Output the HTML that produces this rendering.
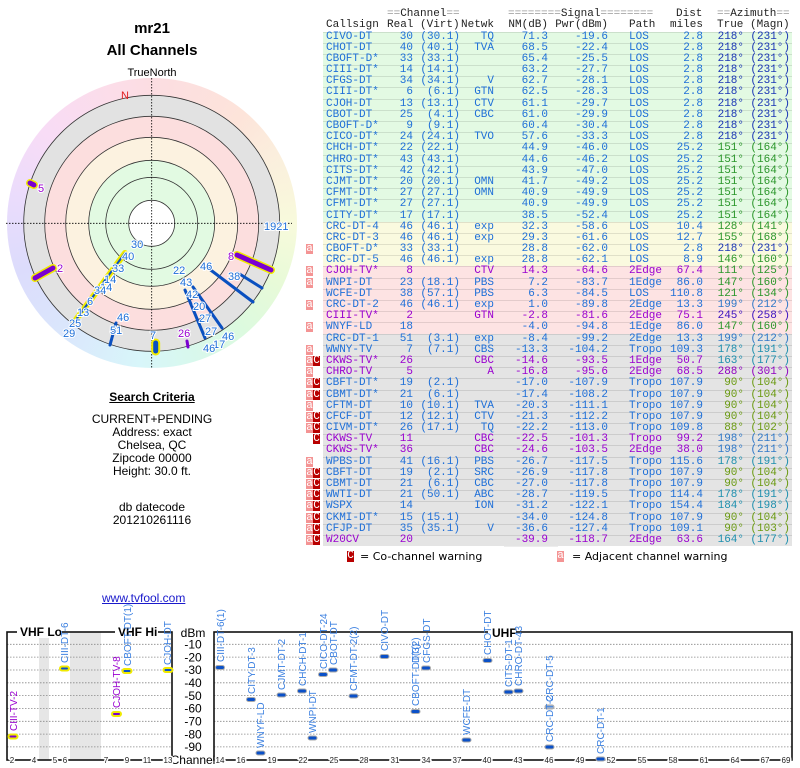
<!DOCTYPE html>
<html><head><meta charset="utf-8">
<style>
body{margin:0;width:800px;height:768px;background:#fff;position:relative;overflow:hidden;font-family:"Liberation Sans",sans-serif}
.t{position:absolute;white-space:nowrap}
.mono{font-family:"Liberation Mono","DejaVu Sans Mono",monospace;font-size:11px}
#tbl{position:absolute;left:0;top:31.5px;width:800px}
.r{position:relative;height:11.2px;line-height:11.2px}
.r .bg{position:absolute;left:323px;width:469px;top:0;height:11.2px;box-sizing:border-box;border-top:1px solid rgba(0,0,0,0.1)}
.G .bg{background:#e3fae3}.Y .bg{background:#fafadf}.P .bg{background:#fde3e3}.X .bg{background:#e4e4e4}
.r span,.h span{position:absolute;top:0}
.c1{left:326px}.c2{left:390px;width:23px;text-align:right}.c3{left:415px;width:45px;text-align:right}
.c4{left:462px;width:32px;text-align:right}.c5{left:505px;width:43px;text-align:right}
.c6{left:558px;width:50px;text-align:right}.c7{left:629px}.c8{left:655px;width:48px;text-align:right}
.c9{left:700px;width:44px;text-align:right}.c10{left:745px;width:45px;text-align:right}
.wa{left:306px;width:7px;height:10px;background:#f49494;color:#fff;text-align:center;line-height:10px}
.wc{left:313px;width:7px;height:10px;background:#b80000;color:#fff;text-align:center;line-height:10px}
.r{color:#1e6fd8}.pu{color:#9a00d0}
.az1{color:#1a35b5}.az2{color:#2a962a}.az3{color:#6a9a10}.az4{color:#1d8fae}.az5{color:#2f78c8}.az6{color:#3a10c0}.az7{color:#9000c0}
#nm{position:absolute;left:504px;top:31.5px;width:54px;height:515px;background:rgba(0,0,0,0.07)}
.h{position:absolute;left:0;width:800px;height:12px;color:#222}.eq{color:#999}
</style></head><body>

<div class="t" style="left:0;width:304px;text-align:center;top:20px;font-weight:bold;font-size:15px">mr21</div>
<div class="t" style="left:0;width:304px;text-align:center;top:42px;font-weight:bold;font-size:15px">All Channels</div>
<div class="t" style="left:0;width:304px;text-align:center;top:67px;font-size:11px">TrueNorth</div>

<div style="position:absolute;left:6.7px;top:78.3px;width:290px;height:290px;border-radius:50%;background:conic-gradient(#fcdde2 0deg,#fde4da 40deg,#fbeedd 60deg,#f8fadc 90deg,#e8fad8 115deg,#dcfadf 140deg,#d8f8ee 165deg,#d8f6fa 185deg,#dae8fc 215deg,#dcdcfc 250deg,#eadcfc 280deg,#f8dcf6 310deg,#fcdde8 345deg,#fcdde2 360deg)"></div>
<svg style="position:absolute;left:0;top:0" width="304" height="380">
<g stroke="#333" stroke-width="0.8">
<circle cx="151.7" cy="223.3" r="128" fill="#e2e2e2"/>
<circle cx="151.7" cy="223.3" r="107" fill="#fcdede"/>
<circle cx="151.7" cy="223.3" r="86" fill="#fcf2e0"/>
<circle cx="151.7" cy="223.3" r="63" fill="#e2fae2"/>
<circle cx="151.7" cy="223.3" r="46" fill="#e2fae2"/>
<circle cx="151.7" cy="223.3" r="23" fill="#fff"/>
</g>
<g stroke="#000" stroke-width="0.8" stroke-dasharray="1.5,1.5">
<line x1="6" y1="223.3" x2="292" y2="223.3"/><line x1="151.7" y1="78" x2="151.7" y2="369"/>
</g>
<text x="121" y="99" fill="#e02020" font-size="11">N</text>
<g stroke-linecap="round">
<line x1="125" y1="253" x2="75" y2="321" stroke="#f0ea00" stroke-width="6"/>
<line x1="125" y1="253" x2="75" y2="321" stroke="#0a50c0" stroke-width="2"/>
<line x1="35" y1="278" x2="53" y2="268" stroke="#f0ea00" stroke-width="8"/>
<line x1="35" y1="278" x2="53" y2="268" stroke="#7a00d0" stroke-width="5"/>
<line x1="30" y1="183" x2="34" y2="185" stroke="#f0ea00" stroke-width="8"/>
<line x1="30" y1="183" x2="34" y2="185" stroke="#7a00d0" stroke-width="5"/>
<line x1="237" y1="255" x2="271" y2="270" stroke="#f0ea00" stroke-width="8"/>
<line x1="237" y1="255" x2="271" y2="270" stroke="#7a00d0" stroke-width="5"/>
<line x1="208" y1="268" x2="253" y2="302" stroke="#0a50c0" stroke-width="3"/>
<line x1="238" y1="273" x2="262" y2="288" stroke="#0a50c0" stroke-width="3"/>
<line x1="185" y1="290" x2="205" y2="338" stroke="#0a50c0" stroke-width="3"/>
<line x1="193" y1="287" x2="222" y2="328" stroke="#0a50c0" stroke-width="3"/>
<line x1="116" y1="323" x2="110" y2="345" stroke="#0a50c0" stroke-width="3"/>
<line x1="155.7" y1="343" x2="155.7" y2="351" stroke="#f0ea00" stroke-width="9"/>
<line x1="155.7" y1="343" x2="155.7" y2="351" stroke="#0a50c0" stroke-width="5"/>
<line x1="187" y1="341" x2="188" y2="347" stroke="#7a00d0" stroke-width="3"/>
</g>
<g font-size="11" fill="#1e6fd8" stroke="#fff" stroke-width="2" paint-order="stroke">
<text x="38" y="192" fill="#9a00d0">5</text>
<text x="264" y="230">1921</text>
<text x="131" y="248">30</text><text x="122" y="260">40</text><text x="112" y="272">33</text>
<text x="104" y="283">14</text><text x="100" y="291">14</text><text x="94" y="294">34</text>
<text x="87" y="305">6</text><text x="77" y="316">13</text><text x="69" y="327">25</text><text x="63" y="337">29</text>
<text x="57" y="272" fill="#9a00d0">2</text><text x="228" y="260" fill="#9a00d0">8</text>
<text x="200" y="270">46</text><text x="228" y="280">38</text>
<text x="173" y="274">22</text><text x="180" y="286">43</text><text x="186" y="298">42</text>
<text x="193" y="310">20</text><text x="199" y="322">27</text><text x="205" y="335">27</text>
<text x="222" y="340">46</text><text x="213" y="348">17</text><text x="203" y="352">46</text>
<text x="178" y="337" fill="#9a00d0">26</text><text x="150" y="339">7</text>
<text x="117" y="321">46</text><text x="110" y="334">51</text>
</g>
</svg>

<div class="t" style="left:0;width:304px;text-align:center;top:390px;font-size:12px;font-weight:bold;text-decoration:underline">Search Criteria</div>
<div class="t" style="left:0;width:304px;text-align:center;top:413px;font-size:12px;line-height:13px">CURRENT+PENDING<br>Address: exact<br>Chelsea, QC<br>Zipcode 00000<br>Height: 30.0 ft.</div>
<div class="t" style="left:0;width:304px;text-align:center;top:501px;font-size:12px;line-height:13px">db datecode<br>201210261116</div>

<div class="h mono" style="top:8px"><span style="left:387px"><span class="eq" style="position:static">==</span>Channel<span class="eq" style="position:static">==</span></span><span style="left:508px"><span class="eq" style="position:static">========</span>Signal<span class="eq" style="position:static">========</span></span><span style="left:676px">Dist</span><span style="left:717px"><span class="eq" style="position:static">==</span>Azimuth<span class="eq" style="position:static">==</span></span></div>
<div class="h mono" style="top:19px"><span style="left:326px">Callsign</span><span style="left:387px">Real</span><span style="left:420px">(Virt)</span><span style="left:461px;width:33px;text-align:right">Netwk</span><span style="left:505px;width:43px;text-align:right">NM(dB)</span><span style="left:550px;width:58px;text-align:right">Pwr(dBm)</span><span style="left:629px">Path</span><span style="left:660px;width:43px;text-align:right">miles</span><span style="left:717px">True</span><span style="left:750px">(Magn)</span></div>

<div id="nm"></div>
<div id="tbl" class="mono">
<div class="r G"><i class="bg"></i><span class="c1">CIVO-DT</span><span class="c2">30</span><span class="c3">(30.1)</span><span class="c4">TQ</span><span class="c5">71.3</span><span class="c6">-19.6</span><span class="c7">LOS</span><span class="c8">2.8</span><span class="c9 az1">218°</span><span class="c10 az1">(231°)</span></div>
<div class="r G"><i class="bg"></i><span class="c1">CHOT-DT</span><span class="c2">40</span><span class="c3">(40.1)</span><span class="c4">TVA</span><span class="c5">68.5</span><span class="c6">-22.4</span><span class="c7">LOS</span><span class="c8">2.8</span><span class="c9 az1">218°</span><span class="c10 az1">(231°)</span></div>
<div class="r G"><i class="bg"></i><span class="c1">CBOFT-D*</span><span class="c2">33</span><span class="c3">(33.1)</span><span class="c4"></span><span class="c5">65.4</span><span class="c6">-25.5</span><span class="c7">LOS</span><span class="c8">2.8</span><span class="c9 az1">218°</span><span class="c10 az1">(231°)</span></div>
<div class="r G"><i class="bg"></i><span class="c1">CIII-DT*</span><span class="c2">14</span><span class="c3">(14.1)</span><span class="c4"></span><span class="c5">63.2</span><span class="c6">-27.7</span><span class="c7">LOS</span><span class="c8">2.8</span><span class="c9 az1">218°</span><span class="c10 az1">(231°)</span></div>
<div class="r G"><i class="bg"></i><span class="c1">CFGS-DT</span><span class="c2">34</span><span class="c3">(34.1)</span><span class="c4">V</span><span class="c5">62.7</span><span class="c6">-28.1</span><span class="c7">LOS</span><span class="c8">2.8</span><span class="c9 az1">218°</span><span class="c10 az1">(231°)</span></div>
<div class="r G"><i class="bg"></i><span class="c1">CIII-DT*</span><span class="c2">6</span><span class="c3">(6.1)</span><span class="c4">GTN</span><span class="c5">62.5</span><span class="c6">-28.3</span><span class="c7">LOS</span><span class="c8">2.8</span><span class="c9 az1">218°</span><span class="c10 az1">(231°)</span></div>
<div class="r G"><i class="bg"></i><span class="c1">CJOH-DT</span><span class="c2">13</span><span class="c3">(13.1)</span><span class="c4">CTV</span><span class="c5">61.1</span><span class="c6">-29.7</span><span class="c7">LOS</span><span class="c8">2.8</span><span class="c9 az1">218°</span><span class="c10 az1">(231°)</span></div>
<div class="r G"><i class="bg"></i><span class="c1">CBOT-DT</span><span class="c2">25</span><span class="c3">(4.1)</span><span class="c4">CBC</span><span class="c5">61.0</span><span class="c6">-29.9</span><span class="c7">LOS</span><span class="c8">2.8</span><span class="c9 az1">218°</span><span class="c10 az1">(231°)</span></div>
<div class="r G"><i class="bg"></i><span class="c1">CBOFT-D*</span><span class="c2">9</span><span class="c3">(9.1)</span><span class="c4"></span><span class="c5">60.4</span><span class="c6">-30.4</span><span class="c7">LOS</span><span class="c8">2.8</span><span class="c9 az1">218°</span><span class="c10 az1">(231°)</span></div>
<div class="r G"><i class="bg"></i><span class="c1">CICO-DT*</span><span class="c2">24</span><span class="c3">(24.1)</span><span class="c4">TVO</span><span class="c5">57.6</span><span class="c6">-33.3</span><span class="c7">LOS</span><span class="c8">2.8</span><span class="c9 az1">218°</span><span class="c10 az1">(231°)</span></div>
<div class="r G"><i class="bg"></i><span class="c1">CHCH-DT*</span><span class="c2">22</span><span class="c3">(22.1)</span><span class="c4"></span><span class="c5">44.9</span><span class="c6">-46.0</span><span class="c7">LOS</span><span class="c8">25.2</span><span class="c9 az2">151°</span><span class="c10 az2">(164°)</span></div>
<div class="r G"><i class="bg"></i><span class="c1">CHRO-DT*</span><span class="c2">43</span><span class="c3">(43.1)</span><span class="c4"></span><span class="c5">44.6</span><span class="c6">-46.2</span><span class="c7">LOS</span><span class="c8">25.2</span><span class="c9 az2">151°</span><span class="c10 az2">(164°)</span></div>
<div class="r G"><i class="bg"></i><span class="c1">CITS-DT*</span><span class="c2">42</span><span class="c3">(42.1)</span><span class="c4"></span><span class="c5">43.9</span><span class="c6">-47.0</span><span class="c7">LOS</span><span class="c8">25.2</span><span class="c9 az2">151°</span><span class="c10 az2">(164°)</span></div>
<div class="r G"><i class="bg"></i><span class="c1">CJMT-DT*</span><span class="c2">20</span><span class="c3">(20.1)</span><span class="c4">OMN</span><span class="c5">41.7</span><span class="c6">-49.2</span><span class="c7">LOS</span><span class="c8">25.2</span><span class="c9 az2">151°</span><span class="c10 az2">(164°)</span></div>
<div class="r G"><i class="bg"></i><span class="c1">CFMT-DT*</span><span class="c2">27</span><span class="c3">(27.1)</span><span class="c4">OMN</span><span class="c5">40.9</span><span class="c6">-49.9</span><span class="c7">LOS</span><span class="c8">25.2</span><span class="c9 az2">151°</span><span class="c10 az2">(164°)</span></div>
<div class="r G"><i class="bg"></i><span class="c1">CFMT-DT*</span><span class="c2">27</span><span class="c3">(27.1)</span><span class="c4"></span><span class="c5">40.9</span><span class="c6">-49.9</span><span class="c7">LOS</span><span class="c8">25.2</span><span class="c9 az2">151°</span><span class="c10 az2">(164°)</span></div>
<div class="r G"><i class="bg"></i><span class="c1">CITY-DT*</span><span class="c2">17</span><span class="c3">(17.1)</span><span class="c4"></span><span class="c5">38.5</span><span class="c6">-52.4</span><span class="c7">LOS</span><span class="c8">25.2</span><span class="c9 az2">151°</span><span class="c10 az2">(164°)</span></div>
<div class="r Y"><i class="bg"></i><span class="c1">CRC-DT-4</span><span class="c2">46</span><span class="c3">(46.1)</span><span class="c4">exp</span><span class="c5">32.3</span><span class="c6">-58.6</span><span class="c7">LOS</span><span class="c8">10.4</span><span class="c9 az2">128°</span><span class="c10 az2">(141°)</span></div>
<div class="r Y"><i class="bg"></i><span class="c1">CRC-DT-3</span><span class="c2">46</span><span class="c3">(46.1)</span><span class="c4">exp</span><span class="c5">29.3</span><span class="c6">-61.6</span><span class="c7">LOS</span><span class="c8">12.7</span><span class="c9 az2">155°</span><span class="c10 az2">(168°)</span></div>
<div class="r Y"><i class="bg"></i><span class="wa">a</span><span class="c1">CBOFT-D*</span><span class="c2">33</span><span class="c3">(33.1)</span><span class="c4"></span><span class="c5">28.8</span><span class="c6">-62.0</span><span class="c7">LOS</span><span class="c8">2.8</span><span class="c9 az1">218°</span><span class="c10 az1">(231°)</span></div>
<div class="r Y"><i class="bg"></i><span class="c1">CRC-DT-5</span><span class="c2">46</span><span class="c3">(46.1)</span><span class="c4">exp</span><span class="c5">28.8</span><span class="c6">-62.1</span><span class="c7">LOS</span><span class="c8">8.9</span><span class="c9 az2">146°</span><span class="c10 az2">(160°)</span></div>
<div class="r P pu"><i class="bg"></i><span class="wa">a</span><span class="c1">CJOH-TV*</span><span class="c2">8</span><span class="c4">CTV</span><span class="c5">14.3</span><span class="c6">-64.6</span><span class="c7">2Edge</span><span class="c8">67.4</span><span class="c9 az2">111°</span><span class="c10 az2">(125°)</span></div>
<div class="r P"><i class="bg"></i><span class="wa">a</span><span class="c1">WNPI-DT</span><span class="c2">23</span><span class="c3">(18.1)</span><span class="c4">PBS</span><span class="c5">7.2</span><span class="c6">-83.7</span><span class="c7">1Edge</span><span class="c8">86.0</span><span class="c9 az2">147°</span><span class="c10 az2">(160°)</span></div>
<div class="r P"><i class="bg"></i><span class="c1">WCFE-DT</span><span class="c2">38</span><span class="c3">(57.1)</span><span class="c4">PBS</span><span class="c5">6.3</span><span class="c6">-84.5</span><span class="c7">LOS</span><span class="c8">110.8</span><span class="c9 az2">121°</span><span class="c10 az2">(134°)</span></div>
<div class="r P"><i class="bg"></i><span class="wa">a</span><span class="c1">CRC-DT-2</span><span class="c2">46</span><span class="c3">(46.1)</span><span class="c4">exp</span><span class="c5">1.0</span><span class="c6">-89.8</span><span class="c7">2Edge</span><span class="c8">13.3</span><span class="c9 az5">199°</span><span class="c10 az5">(212°)</span></div>
<div class="r P pu"><i class="bg"></i><span class="c1">CIII-TV*</span><span class="c2">2</span><span class="c4">GTN</span><span class="c5">-2.8</span><span class="c6">-81.6</span><span class="c7">2Edge</span><span class="c8">75.1</span><span class="c9 az6">245°</span><span class="c10 az6">(258°)</span></div>
<div class="r P"><i class="bg"></i><span class="wa">a</span><span class="c1">WNYF-LD</span><span class="c2">18</span><span class="c5">-4.0</span><span class="c6">-94.8</span><span class="c7">1Edge</span><span class="c8">86.0</span><span class="c9 az2">147°</span><span class="c10 az2">(160°)</span></div>
<div class="r X"><i class="bg"></i><span class="c1">CRC-DT-1</span><span class="c2">51</span><span class="c3">(3.1)</span><span class="c4">exp</span><span class="c5">-8.4</span><span class="c6">-99.2</span><span class="c7">2Edge</span><span class="c8">13.3</span><span class="c9 az5">199°</span><span class="c10 az5">(212°)</span></div>
<div class="r X"><i class="bg"></i><span class="wa">a</span><span class="c1">WWNY-TV</span><span class="c2">7</span><span class="c3">(7.1)</span><span class="c4">CBS</span><span class="c5">-13.3</span><span class="c6">-104.2</span><span class="c7">Tropo</span><span class="c8">109.3</span><span class="c9 az4">178°</span><span class="c10 az4">(191°)</span></div>
<div class="r X pu"><i class="bg"></i><span class="wa">a</span><span class="wc">C</span><span class="c1">CKWS-TV*</span><span class="c2">26</span><span class="c4">CBC</span><span class="c5">-14.6</span><span class="c6">-93.5</span><span class="c7">1Edge</span><span class="c8">50.7</span><span class="c9 az4">163°</span><span class="c10 az4">(177°)</span></div>
<div class="r X pu"><i class="bg"></i><span class="wa">a</span><span class="c1">CHRO-TV</span><span class="c2">5</span><span class="c4">A</span><span class="c5">-16.8</span><span class="c6">-95.6</span><span class="c7">2Edge</span><span class="c8">68.5</span><span class="c9 az7">288°</span><span class="c10 az7">(301°)</span></div>
<div class="r X"><i class="bg"></i><span class="wa">a</span><span class="wc">C</span><span class="c1">CBFT-DT*</span><span class="c2">19</span><span class="c3">(2.1)</span><span class="c5">-17.0</span><span class="c6">-107.9</span><span class="c7">Tropo</span><span class="c8">107.9</span><span class="c9 az3">90°</span><span class="c10 az3">(104°)</span></div>
<div class="r X"><i class="bg"></i><span class="wa">a</span><span class="wc">C</span><span class="c1">CBMT-DT*</span><span class="c2">21</span><span class="c3">(6.1)</span><span class="c5">-17.4</span><span class="c6">-108.2</span><span class="c7">Tropo</span><span class="c8">107.9</span><span class="c9 az3">90°</span><span class="c10 az3">(104°)</span></div>
<div class="r X"><i class="bg"></i><span class="wa">a</span><span class="c1">CFTM-DT</span><span class="c2">10</span><span class="c3">(10.1)</span><span class="c4">TVA</span><span class="c5">-20.3</span><span class="c6">-111.1</span><span class="c7">Tropo</span><span class="c8">107.9</span><span class="c9 az3">90°</span><span class="c10 az3">(104°)</span></div>
<div class="r X"><i class="bg"></i><span class="wa">a</span><span class="wc">C</span><span class="c1">CFCF-DT</span><span class="c2">12</span><span class="c3">(12.1)</span><span class="c4">CTV</span><span class="c5">-21.3</span><span class="c6">-112.2</span><span class="c7">Tropo</span><span class="c8">107.9</span><span class="c9 az3">90°</span><span class="c10 az3">(104°)</span></div>
<div class="r X"><i class="bg"></i><span class="wa">a</span><span class="wc">C</span><span class="c1">CIVM-DT*</span><span class="c2">26</span><span class="c3">(17.1)</span><span class="c4">TQ</span><span class="c5">-22.2</span><span class="c6">-113.0</span><span class="c7">Tropo</span><span class="c8">109.8</span><span class="c9 az3">88°</span><span class="c10 az3">(102°)</span></div>
<div class="r X pu"><i class="bg"></i><span class="wc">C</span><span class="c1">CKWS-TV</span><span class="c2">11</span><span class="c4">CBC</span><span class="c5">-22.5</span><span class="c6">-101.3</span><span class="c7">Tropo</span><span class="c8">99.2</span><span class="c9 az5">198°</span><span class="c10 az5">(211°)</span></div>
<div class="r X pu"><i class="bg"></i><span class="c1">CKWS-TV*</span><span class="c2">36</span><span class="c4">CBC</span><span class="c5">-24.6</span><span class="c6">-103.5</span><span class="c7">2Edge</span><span class="c8">38.0</span><span class="c9 az5">198°</span><span class="c10 az5">(211°)</span></div>
<div class="r X"><i class="bg"></i><span class="wa">a</span><span class="c1">WPBS-DT</span><span class="c2">41</span><span class="c3">(16.1)</span><span class="c4">PBS</span><span class="c5">-26.7</span><span class="c6">-117.5</span><span class="c7">Tropo</span><span class="c8">115.6</span><span class="c9 az4">178°</span><span class="c10 az4">(191°)</span></div>
<div class="r X"><i class="bg"></i><span class="wa">a</span><span class="wc">C</span><span class="c1">CBFT-DT</span><span class="c2">19</span><span class="c3">(2.1)</span><span class="c4">SRC</span><span class="c5">-26.9</span><span class="c6">-117.8</span><span class="c7">Tropo</span><span class="c8">107.9</span><span class="c9 az3">90°</span><span class="c10 az3">(104°)</span></div>
<div class="r X"><i class="bg"></i><span class="wa">a</span><span class="wc">C</span><span class="c1">CBMT-DT</span><span class="c2">21</span><span class="c3">(6.1)</span><span class="c4">CBC</span><span class="c5">-27.0</span><span class="c6">-117.8</span><span class="c7">Tropo</span><span class="c8">107.9</span><span class="c9 az3">90°</span><span class="c10 az3">(104°)</span></div>
<div class="r X"><i class="bg"></i><span class="wa">a</span><span class="wc">C</span><span class="c1">WWTI-DT</span><span class="c2">21</span><span class="c3">(50.1)</span><span class="c4">ABC</span><span class="c5">-28.7</span><span class="c6">-119.5</span><span class="c7">Tropo</span><span class="c8">114.4</span><span class="c9 az4">178°</span><span class="c10 az4">(191°)</span></div>
<div class="r X"><i class="bg"></i><span class="wa">a</span><span class="wc">C</span><span class="c1">WSPX</span><span class="c2">14</span><span class="c4">ION</span><span class="c5">-31.2</span><span class="c6">-122.1</span><span class="c7">Tropo</span><span class="c8">154.4</span><span class="c9 az4">184°</span><span class="c10 az4">(198°)</span></div>
<div class="r X"><i class="bg"></i><span class="wa">a</span><span class="wc">C</span><span class="c1">CKMI-DT*</span><span class="c2">15</span><span class="c3">(15.1)</span><span class="c5">-34.0</span><span class="c6">-124.8</span><span class="c7">Tropo</span><span class="c8">107.9</span><span class="c9 az3">90°</span><span class="c10 az3">(104°)</span></div>
<div class="r X"><i class="bg"></i><span class="wa">a</span><span class="wc">C</span><span class="c1">CFJP-DT</span><span class="c2">35</span><span class="c3">(35.1)</span><span class="c4">V</span><span class="c5">-36.6</span><span class="c6">-127.4</span><span class="c7">Tropo</span><span class="c8">109.1</span><span class="c9 az3">90°</span><span class="c10 az3">(103°)</span></div>
<div class="r X pu"><i class="bg"></i><span class="wa">a</span><span class="wc">C</span><span class="c1">W20CV</span><span class="c2">20</span><span class="c5">-39.9</span><span class="c6">-118.7</span><span class="c7">2Edge</span><span class="c8">63.6</span><span class="c9 az4">164°</span><span class="c10 az4">(177°)</span></div>
</div>

<div class="t mono" style="left:347px;top:551px;width:7px;height:11px;line-height:11px;background:#b80000;color:#fff;text-align:center">C</div>
<div class="t" style="left:360px;top:550px;font-family:'DejaVu Sans',sans-serif;font-size:11px">= Co-channel warning</div>
<div class="t mono" style="left:557px;top:551px;width:7px;height:11px;line-height:11px;background:#f49494;color:#fff;text-align:center">a</div>
<div class="t" style="left:572px;top:550px;font-family:'DejaVu Sans',sans-serif;font-size:11px">= Adjacent channel warning</div>

<div class="t" style="left:102px;top:591px;font-size:12px;color:#1a1acc;text-decoration:underline">www.tvfool.com</div>

<svg style="position:absolute;left:0;top:580px" width="800" height="188" viewBox="0 580 800 188">
<rect x="39" y="632" width="10" height="128" fill="#e6e6e6"/>
<rect x="70" y="632" width="31" height="128" fill="#e6e6e6"/>
<g stroke="#888" stroke-width="0.8" stroke-dasharray="1.5,1.5">
<path d="M7 644.3H172M7 657.1H172M7 670H172M7 682.8H172M7 695.6H172M7 708.4H172M7 721.3H172M7 734.1H172M7 746.9H172"/>
<path d="M214 644.3H792M214 657.1H792M214 670H792M214 682.8H792M214 695.6H792M214 708.4H792M214 721.3H792M214 734.1H792M214 746.9H792"/>
</g>
<g fill="none" stroke="#111" stroke-width="1.6">
<rect x="7" y="632" width="165" height="128"/>
<rect x="214" y="632" width="578" height="128"/>
</g>
<g fill="#fff">
<rect x="17" y="626" width="45" height="12"/><rect x="115" y="626" width="43" height="12"/><rect x="488" y="626" width="28" height="12"/>
</g>
<g font-weight="bold" font-size="12" fill="#000">
<text x="20" y="636">VHF Lo</text><text x="118" y="636">VHF Hi</text><text x="492" y="637">UHF</text>
</g>
<g font-size="12" fill="#000" text-anchor="middle">
<text x="193" y="637">dBm</text>
<text x="193" y="648.5">-10</text><text x="193" y="661.3">-20</text><text x="193" y="674.2">-30</text><text x="193" y="687">-40</text><text x="193" y="699.8">-50</text><text x="193" y="712.6">-60</text><text x="193" y="725.5">-70</text><text x="193" y="738.3">-80</text><text x="193" y="751.1">-90</text>
</g>
<rect x="174" y="755" width="39" height="13" fill="#fff"/>
<text x="193" y="764" font-size="12" text-anchor="middle">Channel</text>
<g font-size="8" fill="#222" text-anchor="middle" stroke="#fff" stroke-width="3" paint-order="stroke">
<text x="12" y="763">2</text><text x="34" y="763">4</text><text x="55" y="763">5</text><text x="65" y="763">6</text><text x="106" y="763">7</text><text x="127" y="763">9</text><text x="147" y="763">11</text><text x="168" y="763">13</text>
<text x="220" y="763">14</text><text x="241" y="763">16</text><text x="272" y="763">19</text><text x="303" y="763">22</text><text x="334" y="763">25</text><text x="364" y="763">28</text><text x="395" y="763">31</text><text x="426" y="763">34</text><text x="457" y="763">37</text><text x="487" y="763">40</text><text x="518" y="763">43</text><text x="549" y="763">46</text><text x="580" y="763">49</text><text x="611" y="763">52</text><text x="642" y="763">55</text><text x="673" y="763">58</text><text x="704" y="763">61</text><text x="735" y="763">64</text><text x="765" y="763">67</text><text x="786" y="763">69</text>
</g>
<g>
<rect x="8.5" y="734.5" width="9" height="4" rx="2" fill="#7a00d0" stroke="#f0ea00" stroke-width="2"/>
<rect x="60" y="666.5" width="9" height="4" rx="2" fill="#0a50c8" stroke="#f0ea00" stroke-width="2"/>
<rect x="112" y="712" width="9" height="4" rx="2" fill="#7a00d0" stroke="#f0ea00" stroke-width="2"/>
<rect x="122.5" y="669" width="9" height="4" rx="2" fill="#0a50c8" stroke="#f0ea00" stroke-width="2"/>
<rect x="163.5" y="668" width="9" height="4" rx="2" fill="#0a50c8" stroke="#f0ea00" stroke-width="2"/>
</g>
<g fill="#0a50c8" stroke="#aaa" stroke-width="1">
<rect x="215.5" y="665.5" width="9" height="4" rx="2"/>
<rect x="246.5" y="697.5" width="9" height="4" rx="2"/>
<rect x="256" y="751" width="9" height="4" rx="2"/>
<rect x="277" y="693" width="9" height="4" rx="2"/>
<rect x="297.5" y="689" width="9" height="4" rx="2"/>
<rect x="308" y="736" width="9" height="4" rx="2"/>
<rect x="318.5" y="672.5" width="9" height="4" rx="2"/>
<rect x="328.5" y="668" width="9" height="4" rx="2"/>
<rect x="349" y="694" width="9" height="4" rx="2"/>
<rect x="380" y="654.5" width="9" height="4" rx="2"/>
<rect x="411" y="709.5" width="9" height="4" rx="2"/>
<rect x="421.5" y="666" width="9" height="4" rx="2"/>
<rect x="462" y="738" width="9" height="4" rx="2"/>
<rect x="483" y="658.5" width="9" height="4" rx="2"/>
<rect x="504" y="690" width="9" height="4" rx="2"/>
<rect x="514" y="689" width="9" height="4" rx="2"/>
<rect x="545" y="705" width="9" height="4" rx="2" fill="#9ab0d0"/>
<rect x="545" y="745" width="9" height="4" rx="2"/>
<rect x="596" y="757" width="9" height="4" rx="2"/>
</g>
<g font-size="10" fill="#3a7fe0">
<text transform="translate(17,731) rotate(-90)" fill="#9a00d0">CIII-TV-2</text>
<text transform="translate(68,663) rotate(-90)">CIII-DT-6</text>
<text transform="translate(120,708) rotate(-90)" fill="#9a00d0">CJOH-TV-8</text>
<text transform="translate(131,666) rotate(-90)">CBOFT-DT(1)</text>
<text transform="translate(171,665) rotate(-90)">CJOH-DT</text>
<text transform="translate(224,662) rotate(-90)">CIII-DT-6(1)</text>
<text transform="translate(255,694) rotate(-90)">CITY-DT-3</text>
<text transform="translate(264,748) rotate(-90)">WNYF-LD</text>
<text transform="translate(285,690) rotate(-90)">CJMT-DT-2</text>
<text transform="translate(306,686) rotate(-90)">CHCH-DT-1</text>
<text transform="translate(316,733) rotate(-90)">WNPI-DT</text>
<text transform="translate(327,669) rotate(-90)">CICO-DT-24</text>
<text transform="translate(337,665) rotate(-90)">CBOT-DT</text>
<text transform="translate(357,691) rotate(-90)">CFMT-DT-2(2)</text>
<text transform="translate(388,651) rotate(-90)">CIVO-DT</text>
<text transform="translate(419,706) rotate(-90)">CBOFT-DT(3)</text>
<text transform="translate(419,663) rotate(-90)">DT(2)</text>
<text transform="translate(430,663) rotate(-90)">CFGS-DT</text>
<text transform="translate(470,735) rotate(-90)">WCFE-DT</text>
<text transform="translate(491,655) rotate(-90)">CHOT-DT</text>
<text transform="translate(512,687) rotate(-90)">CITS-DT-1</text>
<text transform="translate(522,686) rotate(-90)">CHRO-DT-43</text>
<text transform="translate(553,742) rotate(-90)">CRC-DT-2</text>
<text transform="translate(553,702) rotate(-90)">CRC-DT-5</text>
<text transform="translate(604,754) rotate(-90)">CRC-DT-1</text>
</g>
</svg>
</body></html>
